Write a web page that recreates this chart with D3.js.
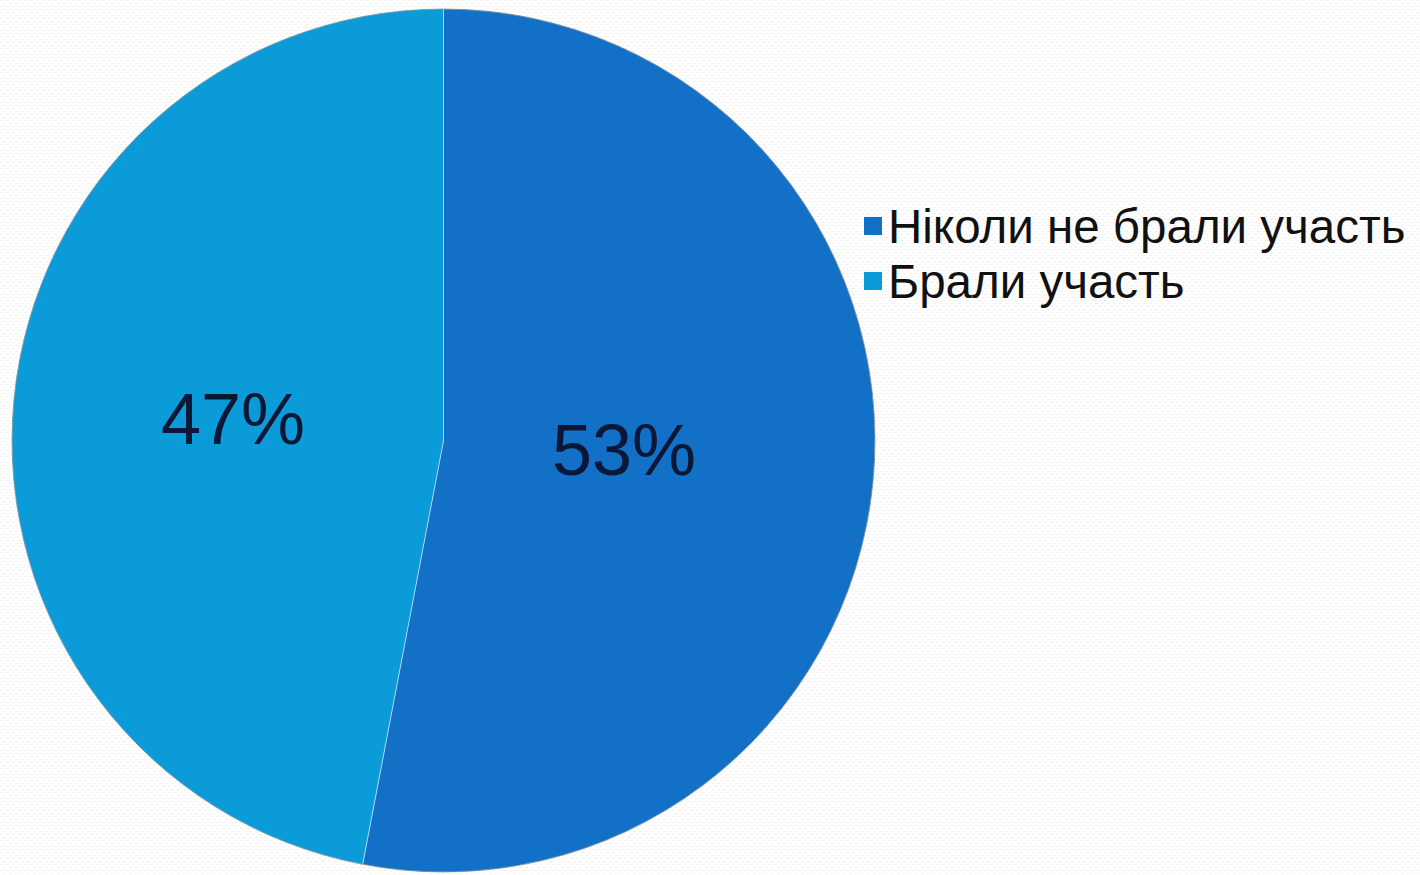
<!DOCTYPE html>
<html>
<head>
<meta charset="utf-8">
<script src="https://cdn.jsdelivr.net/npm/d3@7"></script>
<style>
  html, body { margin: 0; padding: 0; background: #ffffff; }
  svg { display: block; }
</style>
</head>
<body>
<svg id="chart" width="1420" height="875"></svg>
<script>
const categories = ["Ніколи не брали участь", "Брали участь"];
const values = [53, 47];
const valueLabels = ["53%", "47%"];
const colors = ["#1270C6", "#0A9BD8"];

const W = 1420, H = 875;
const svg = d3.select("#chart");

// faint textured background
const defs = svg.append("defs");
const pat = defs.append("pattern")
  .attr("id", "bg").attr("width", 6).attr("height", 6)
  .attr("patternUnits", "userSpaceOnUse");
pat.append("rect").attr("width", 6).attr("height", 6).attr("fill", "#ffffff");
pat.append("rect").attr("x", 0).attr("y", 0).attr("width", 3).attr("height", 1).attr("fill", "#f2f2f2");
pat.append("rect").attr("x", 3).attr("y", 3).attr("width", 3).attr("height", 1).attr("fill", "#f2f2f2");
svg.append("rect").attr("width", W).attr("height", H).attr("fill", "url(#bg)");

const cx = 443.5, cy = 440.5, r = 431.5;
const g = svg.append("g").attr("transform", `translate(${cx},${cy})`);

const pie = d3.pie().sort(null).value(d => d);
const arcs = pie(values);
const arc = d3.arc().innerRadius(0).outerRadius(r);

g.selectAll("path.slice")
  .data(arcs)
  .enter().append("path")
  .attr("class", "slice")
  .attr("d", arc)
  .attr("fill", (d, i) => colors[i])
  .attr("stroke", "rgba(255,255,255,0.45)")
  .attr("stroke-width", 1);

g.append("circle").attr("r", r).attr("fill", "none")
  .attr("stroke", "#4a5a6a").attr("stroke-opacity", 0.5).attr("stroke-width", 1);

// data labels
const labelFactor = [0.42, 0.49];
const labelShiftY = [-8, -3];
g.selectAll("text.lbl")
  .data(arcs)
  .enter().append("text")
  .attr("class", "lbl")
  .attr("transform", (d, i) => {
    const a = d3.arc().innerRadius(0).outerRadius(2 * r * labelFactor[i]);
    const [x, y] = a.centroid(d);
    return `translate(${x},${y + labelShiftY[i]})`;
  })
  .attr("text-anchor", "middle")
  .attr("dy", "0.36em")
  .attr("font-family", "'Liberation Sans', Arial, sans-serif")
  .attr("font-size", 72)
  .attr("fill", "#0b1736")
  .text((d, i) => valueLabels[i]);

// legend
const legend = svg.append("g").attr("transform", "translate(864,0)");
const rowY = d3.scalePoint().domain(categories).range([243, 298]);
const items = legend.selectAll("g.item").data(categories).enter().append("g").attr("class", "item");
items.append("rect")
  .attr("x", 0).attr("y", d => rowY(d) - 26)
  .attr("width", 18).attr("height", 18)
  .attr("fill", (d, i) => colors[i]);
items.append("text")
  .attr("x", 24).attr("y", d => rowY(d))
  .attr("font-family", "'Liberation Sans', Arial, sans-serif")
  .attr("font-size", 47.5)
  .attr("fill", "#111111")
  .text(d => d);
</script>
</body>
</html>
